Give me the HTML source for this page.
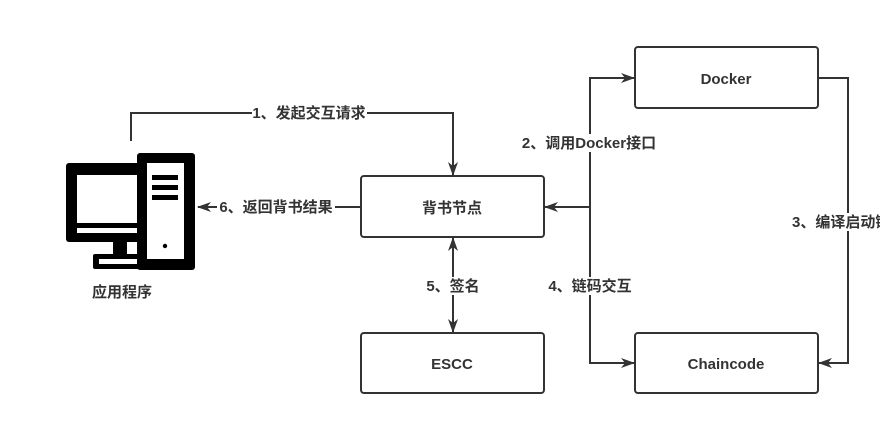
<!DOCTYPE html>
<html><head><meta charset="utf-8"><style>
html,body{margin:0;padding:0;background:#fff;}
svg{display:block;}
text{font-family:"Liberation Sans","Noto Sans CJK SC",sans-serif;font-weight:bold;font-size:15px;fill:#333;}
</style></head><body>
<svg width="880" height="426" viewBox="0 0 880 426" xmlns="http://www.w3.org/2000/svg">
<defs>
<marker id="a" markerWidth="14" markerHeight="10" refX="13" refY="5" orient="auto" markerUnits="userSpaceOnUse">
<path d="M0,0 L14,5 L0,10 L4,5 Z" fill="#333"/></marker>
</defs>
<g fill="none" stroke="#333" stroke-width="2">
<rect x="361" y="176" width="183" height="61" rx="3"/>
<rect x="361" y="333" width="183" height="60" rx="3"/>
<rect x="635" y="47" width="183" height="61" rx="3"/>
<rect x="635" y="333" width="183" height="60" rx="3"/>
<path d="M131,141 V113 H453 V175" marker-end="url(#a)"/>
<path d="M361,207 H198" marker-end="url(#a)"/>
<path d="M590,207 H545" marker-end="url(#a)"/>
<path d="M590,207 V78 H634" marker-end="url(#a)"/>
<path d="M590,207 V363 H634" marker-end="url(#a)"/>
<path d="M818,78 H848 V363 H819" marker-end="url(#a)"/>
<path d="M453,285 V238" marker-end="url(#a)"/>
<path d="M453,285 V332" marker-end="url(#a)"/>
</g>
<g fill="#fff">
<rect x="252" y="104" width="115" height="18"/>
<rect x="217" y="198" width="118" height="18"/>
<rect x="519" y="134" width="141" height="18"/>
<rect x="547" y="277" width="87" height="18"/>
<rect x="424" y="277" width="58" height="18"/>
<rect x="791" y="213" width="89" height="18"/>
</g>
<text x="309" y="118" text-anchor="middle">1、发起交互请求</text>
<text x="276" y="212" text-anchor="middle">6、返回背书结果</text>
<text x="589" y="148" text-anchor="middle">2、调用Docker接口</text>
<text x="590" y="291" text-anchor="middle">4、链码交互</text>
<text x="453" y="291" text-anchor="middle">5、签名</text>
<text x="792" y="227">3、编译启动链码</text>
<text x="452" y="213" text-anchor="middle" font-size="16">背书节点</text>
<text x="452" y="369" text-anchor="middle" font-size="16">ESCC</text>
<text x="726" y="84" text-anchor="middle" font-size="16">Docker</text>
<text x="726" y="369" text-anchor="middle" font-size="16">Chaincode</text>
<text x="122" y="297" text-anchor="middle" font-size="16">应用程序</text>
<rect x="66" y="163" width="74" height="79" rx="3" fill="#000"/>
<rect x="77" y="175" width="60" height="48" fill="#fff"/>
<rect x="77" y="228" width="60" height="5" fill="#fff"/>
<rect x="113" y="240" width="14" height="16" fill="#000"/>
<rect x="93" y="254" width="46" height="15" rx="2" fill="#000"/>
<rect x="99" y="259" width="38" height="5" fill="#fff"/>
<rect x="137" y="153" width="58" height="117" rx="3" fill="#000"/>
<rect x="147" y="163" width="37" height="96" fill="#fff"/>
<rect x="152" y="175" width="26" height="5" fill="#000"/>
<rect x="152" y="185" width="26" height="5" fill="#000"/>
<rect x="152" y="195" width="26" height="5" fill="#000"/>
<circle cx="165" cy="246" r="2.2" fill="#000"/>
</svg>
</body></html>
